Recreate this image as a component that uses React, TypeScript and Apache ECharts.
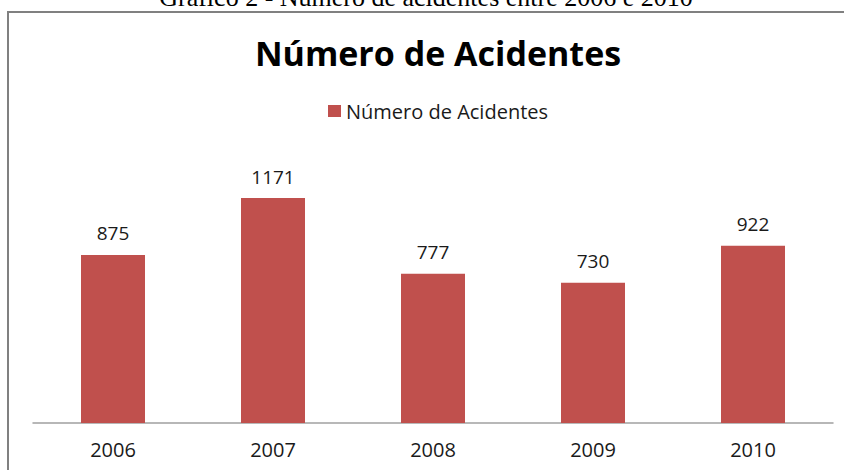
import React, { useEffect, useRef } from "react";
import * as echarts from "echarts";

const caption = "Gráfico 2 - Número de acidentes entre 2006 e 2010";
const chartTitle = "Número de Acidentes";
const seriesName = "Número de Acidentes";
const years = ["2006", "2007", "2008", "2009", "2010"];
const accidents = [875, 1171, 777, 730, 922];

const FONT = "'Open Sans', sans-serif";

export default function App() {
  const ref = useRef<HTMLDivElement>(null);
  useEffect(() => {
    if (!ref.current) return;
    const chart = echarts.init(ref.current, null, { renderer: "svg" });
    chart.setOption({
      animation: false,
      backgroundColor: "#ffffff",
      textStyle: { fontFamily: FONT },
      title: {
        text: chartTitle,
        left: 433,
        textAlign: "center",
        top: 31,
        textStyle: { fontFamily: FONT, fontSize: 34, fontWeight: "bold", color: "#000000" },
      },
      legend: {
        top: 96,
        left: 323,
        icon: "rect",
        itemWidth: 13,
        itemHeight: 12,
        itemGap: 6,
        textStyle: { fontFamily: FONT, fontSize: 20, color: "#1a1a1a" },
        data: [seriesName],
      },
      graphic: [
        {
          type: "rect",
          z: -1,
          shape: { x: 8, y: 12, width: 900, height: 520 },
          style: { fill: "none", stroke: "#808080", lineWidth: 2 },
        },
        {
          type: "text",
          x: 426,
          y: 10,
          style: {
            text: caption,
            font: "26px 'Liberation Serif', 'Times New Roman', serif",
            fill: "#000000",
            align: "center",
            verticalAlign: "bottom",
          },
        },
      ],
      grid: { left: 33, right: 11, top: 154, bottom: 47, containLabel: false },
      xAxis: {
        type: "category",
        data: years,
        axisTick: { show: false },
        axisLine: { lineStyle: { color: "#a0a0a0", width: 1.5 } },
        axisLabel: { fontFamily: FONT, fontSize: 20, color: "#1a1a1a", margin: 16 },
      },
      yAxis: {
        type: "value",
        min: 0,
        max: 1400,
        show: false,
        splitLine: { show: false },
      },
      series: [
        {
          name: seriesName,
          type: "bar",
          data: accidents,
          barWidth: "40%",
          itemStyle: { color: "#C0504D" },
          label: {
            show: true,
            position: "top",
            distance: 12,
            fontFamily: FONT,
            fontSize: 19,
            color: "#1a1a1a",
          },
        },
      ],
    });
    return () => chart.dispose();
  }, []);
  return (
    <div
      ref={ref}
      style={{ position: "fixed", left: 0, top: 0, width: 844, height: 470, background: "#fff" }}
    />
  );
}
